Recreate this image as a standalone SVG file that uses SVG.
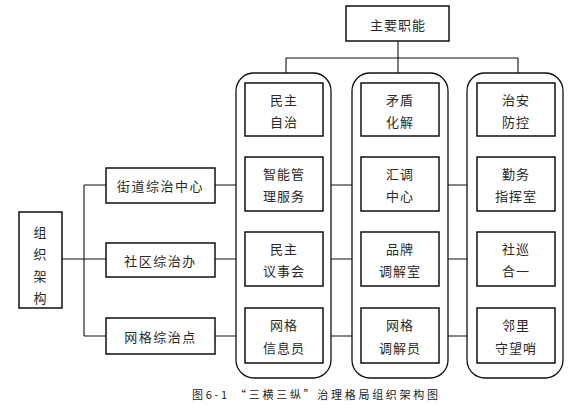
<svg xmlns="http://www.w3.org/2000/svg" width="572" height="415" viewBox="0 0 572 415">
<style>
  .box { fill: #fff; stroke: #111; stroke-width: 1.5; }
  .col { fill: #fff; stroke: #111; stroke-width: 1.3; }
  .t { font-family: "Noto Sans CJK SC", "Noto Sans", sans-serif; font-size: 13px; fill: #2a2a2a; text-anchor: middle; dominant-baseline: central; letter-spacing: 1px; }
  .ln { stroke: #111; stroke-width: 1.1; fill: none; }
  .cap { font-family: "Noto Sans CJK SC", "Noto Sans", sans-serif; font-size: 11px; fill: #222; }
</style>
<rect width="572" height="415" fill="#fff"/>

<g id="connectors">
  <path class="ln" d="M398 41 V58 M286 58 H518 M286 58 V73 M398 58 V73 M518 58 V73"/>
  <path class="ln" d="M62 259 H106 M84 185 V336 M84 185 H106 M84 336 H106"/>
  <path class="ln" d="M215 185 H236 M215 259 H236 M215 336 H236"/>
  <path class="ln" d="M331 185 H352 M331 259 H352 M331 336 H352"/>
  <path class="ln" d="M448 185 H467 M448 259 H467 M448 336 H467"/>
</g>

<g id="top">
  <rect class="box" x="346" y="6" width="103" height="35"/>
  <text class="t" x="398" y="24">主要职能</text>
</g>

<g id="org">
  <rect class="box" x="19" y="212" width="43" height="96"/>
  <text class="t" x="40.5" y="231">组</text>
  <text class="t" x="40.5" y="253">织</text>
  <text class="t" x="40.5" y="275">架</text>
  <text class="t" x="40.5" y="297">构</text>
</g>

<g id="street">
  <rect class="box" x="106" y="168" width="109" height="35"/>
  <text class="t" x="160.5" y="185.5" style="letter-spacing:1.5px">街道综治中心</text>
</g>
<g id="community">
  <rect class="box" x="106" y="243" width="109" height="34"/>
  <text class="t" x="160.5" y="260" style="letter-spacing:1.5px">社区综治办</text>
</g>
<g id="grid">
  <rect class="box" x="106" y="318" width="109" height="36"/>
  <text class="t" x="160.5" y="336" style="letter-spacing:1.5px">网格综治点</text>
</g>

<g id="col1">
  <rect class="col" x="236" y="73" width="95" height="305" rx="18" ry="18"/>
</g>
<g id="col2">
  <rect class="col" x="352" y="73" width="96" height="305" rx="18" ry="18"/>
</g>
<g id="col3">
  <rect class="col" x="467" y="73" width="96" height="305" rx="18" ry="18"/>
</g>

<g id="c1r1"><rect class="box" x="245" y="83" width="78" height="53"/><text class="t" x="284" y="99">民主</text><text class="t" x="284" y="121">自治</text></g>
<g id="c1r2"><rect class="box" x="245" y="157" width="78" height="54"/><text class="t" x="284" y="173">智能管</text><text class="t" x="284" y="195">理服务</text></g>
<g id="c1r3"><rect class="box" x="245" y="232" width="78" height="54"/><text class="t" x="284" y="248">民主</text><text class="t" x="284" y="270">议事会</text></g>
<g id="c1r4"><rect class="box" x="245" y="308" width="78" height="55"/><text class="t" x="284" y="324">网格</text><text class="t" x="284" y="347">信息员</text></g>

<g id="c2r1"><rect class="box" x="361" y="83" width="78" height="53"/><text class="t" x="400" y="99">矛盾</text><text class="t" x="400" y="121">化解</text></g>
<g id="c2r2"><rect class="box" x="361" y="157" width="78" height="54"/><text class="t" x="400" y="173">汇调</text><text class="t" x="400" y="195">中心</text></g>
<g id="c2r3"><rect class="box" x="361" y="232" width="78" height="54"/><text class="t" x="400" y="248">品牌</text><text class="t" x="400" y="270">调解室</text></g>
<g id="c2r4"><rect class="box" x="361" y="308" width="78" height="55"/><text class="t" x="400" y="324">网格</text><text class="t" x="400" y="347">调解员</text></g>

<g id="c3r1"><rect class="box" x="477" y="83" width="78" height="53"/><text class="t" x="516" y="99">治安</text><text class="t" x="516" y="121">防控</text></g>
<g id="c3r2"><rect class="box" x="477" y="157" width="78" height="54"/><text class="t" x="516" y="173">勤务</text><text class="t" x="516" y="195">指挥室</text></g>
<g id="c3r3"><rect class="box" x="477" y="232" width="78" height="54"/><text class="t" x="516" y="248">社巡</text><text class="t" x="516" y="270">合一</text></g>
<g id="c3r4"><rect class="box" x="477" y="308" width="78" height="55"/><text class="t" x="516" y="324">邻里</text><text class="t" x="516" y="347">守望哨</text></g>

<text class="cap" x="192" y="399" textLength="246" lengthAdjust="spacing">图6-1 “三横三纵”治理格局组织架构图</text>
</svg>
